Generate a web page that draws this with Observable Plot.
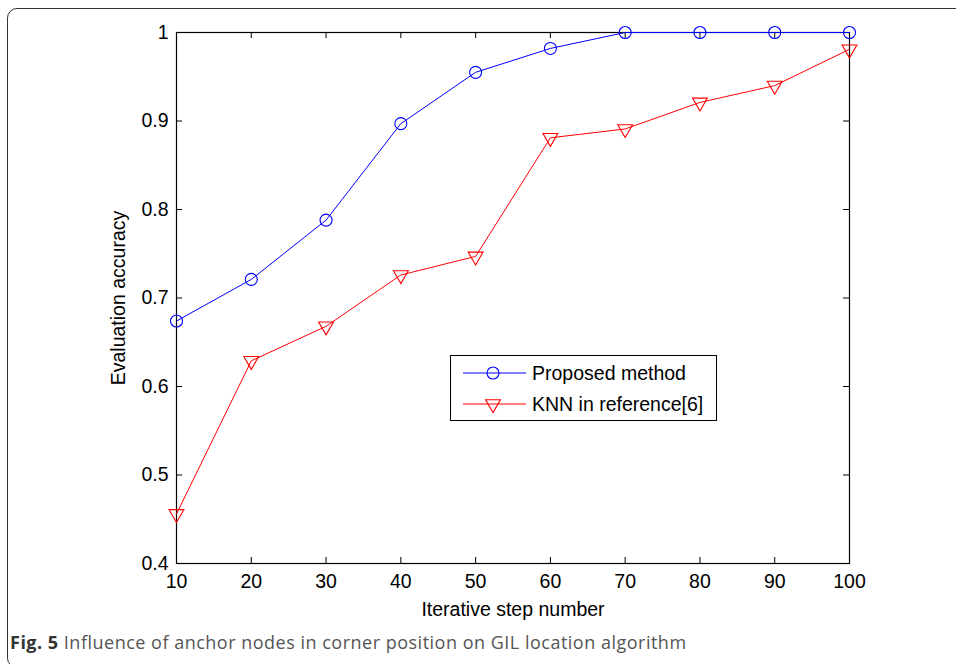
<!DOCTYPE html>
<html><head><meta charset="utf-8">
<script src="https://cdn.jsdelivr.net/npm/d3@7"></script>
<script src="https://cdn.jsdelivr.net/npm/@observablehq/plot@0.6"></script>
<style>
html,body{margin:0;padding:0;background:#fff;}
body{width:956px;height:664px;overflow:hidden;position:relative;}
#border{position:absolute;left:7px;top:8px;width:1100px;height:660px;border:1.6px solid #333;border-radius:10px;box-sizing:border-box;}
#chart{position:absolute;left:0;top:0;}
#legend{position:absolute;left:450px;top:355px;width:267px;height:66px;border:1px solid #000;background:#fff;box-sizing:border-box;}
#caption{position:absolute;left:10px;top:631px;font-family:"Open Sans",sans-serif;font-size:18px;letter-spacing:0.5px;line-height:22px;color:#555;white-space:nowrap;}
#caption b{color:#333;}
</style>
</head><body>
<div id="border"></div>
<div id="chart"></div>
<div id="legend"></div>
<div id="caption"><b>Fig. 5</b> Influence of anchor nodes in corner position on GIL location algorithm</div>
<script>
const steps = [10, 20, 30, 40, 50, 60, 70, 80, 90, 100];
const proposed = [0.674, 0.721, 0.788, 0.897, 0.955, 0.982, 1, 1, 1, 1];
const knn = [0.456, 0.629, 0.668, 0.726, 0.747, 0.881, 0.891, 0.921, 0.940, 0.981];
const seriesNames = ["Proposed method", "KNN in reference[6]"];
const xTicks = [10, 20, 30, 40, 50, 60, 70, 80, 90, 100];
const yTicks = [0.4, 0.5, 0.6, 0.7, 0.8, 0.9, 1];
const xLabel = "Iterative step number";
const yLabel = "Evaluation accuracy";

const W = 956, H = 620, mL = 176, mR = 107, mT = 32, mB = 57;
const fw = W - mL - mR, fh = H - mT - mB, tl = 6;
const blue = "#0000ff", red = "#ff0000";
const font = "'Liberation Sans', Arial, Helvetica, sans-serif";
const fs = 19.5;

const dataP = steps.map((s, i) => ({x: s, y: proposed[i]}));
const dataK = steps.map((s, i) => ({x: s, y: knn[i]}));

const chart = Plot.plot({
  width: W, height: H,
  marginLeft: mL, marginRight: mR, marginTop: mT, marginBottom: mB,
  style: {fontFamily: font, fontSize: fs + "px", color: "#000", background: "transparent", overflow: "visible"},
  x: {domain: [10, 100]},
  y: {domain: [0.4, 1]},
  marks: [
    Plot.tickX(xTicks, {x: d => d, stroke: "#000", insetTop: fh - tl}),
    Plot.tickX(xTicks, {x: d => d, stroke: "#000", insetBottom: fh - tl}),
    Plot.tickY(yTicks, {y: d => d, stroke: "#000", insetRight: fw - tl}),
    Plot.tickY(yTicks, {y: d => d, stroke: "#000", insetLeft: fw - tl}),
    Plot.frame({stroke: "#000", strokeWidth: 1.2}),
    Plot.line(dataP, {x: "x", y: "y", stroke: blue, strokeWidth: 1}),
    Plot.dot(dataP, {x: "x", y: "y", r: 6, symbol: "circle", stroke: blue, fill: "none", strokeWidth: 1.1}),
    Plot.line(dataK, {x: "x", y: "y", stroke: red, strokeWidth: 1}),
    Plot.dot(dataK, {x: "x", y: "y", r: 5.5, symbol: "triangle", rotate: 180, stroke: red, fill: "none", strokeWidth: 1.1}),
    Plot.axisX({ticks: xTicks, tickSize: 0, tickPadding: 11, fontSize: fs, label: null, tickFormat: d => String(d)}),
    Plot.axisY({ticks: yTicks, tickSize: 0, tickPadding: 8, fontSize: fs, label: null, tickFormat: d => String(+d.toFixed(1))}),
    Plot.text([xLabel], {frameAnchor: "bottom", lineAnchor: "middle", textAnchor: "middle", dy: 46, fontSize: fs, fill: "#000"}),
    Plot.text([yLabel], {frameAnchor: "left", lineAnchor: "middle", textAnchor: "middle", dx: -58, rotate: -90, fontSize: fs, fill: "#000"})
  ]
});
document.getElementById("chart").appendChild(chart);

// legend
const lg = d3.select("#legend").append("svg").attr("width", 265).attr("height", 64)
  .style("position", "absolute").style("left", "0px").style("top", "0px");
const rows = [
  {name: seriesNames[0], color: blue, sym: d3.symbolCircle, r: 6, rot: 0},
  {name: seriesNames[1], color: red, sym: d3.symbolTriangle, r: 5.5, rot: 180}
];
rows.forEach((d, i) => {
  const cy = 17 + i * 31;
  lg.append("line").attr("x1", 12).attr("x2", 75).attr("y1", cy).attr("y2", cy)
    .attr("stroke", d.color).attr("stroke-width", 1);
  lg.append("path").attr("d", d3.symbol(d.sym, Math.PI * d.r * d.r)())
    .attr("transform", `translate(42,${cy}) rotate(${d.rot})`)
    .attr("fill", "none").attr("stroke", d.color).attr("stroke-width", 1.1);
  lg.append("text").attr("x", 81).attr("y", cy).attr("dy", "0.35em")
    .attr("font-family", font).attr("font-size", fs).attr("fill", "#000").text(d.name);
});
</script>
</body></html>
